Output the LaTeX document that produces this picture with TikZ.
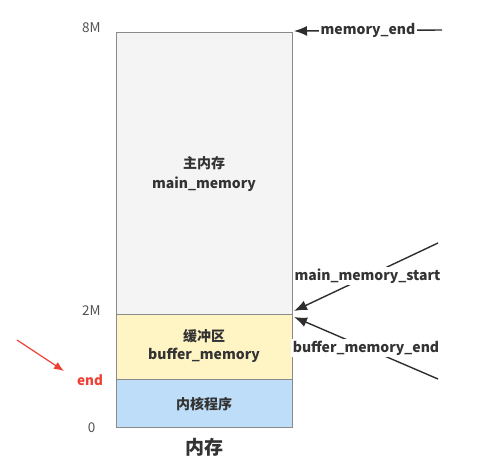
\documentclass[tikz,border=0pt]{standalone}
\usepackage{fontspec}
\setmainfont{Noto Sans CJK SC}
\usetikzlibrary{arrows.meta}
\definecolor{mgray}{HTML}{F4F4F4}
\definecolor{myel}{HTML}{FFF4C4}
\definecolor{mblue}{HTML}{BDDDF8}
\definecolor{mborder}{HTML}{8A8A8A}
\definecolor{mtext}{HTML}{333333}
\definecolor{mred}{HTML}{EE4035}
\tikzset{
  region/.style={draw=mborder, line width=1pt},
  rtext/.style={font=\bfseries\fontsize{14}{20}\selectfont, text=mtext, align=center},
  tick/.style={font=\fontsize{13.5}{15}\selectfont, text=mtext!85, anchor=east},
  ptr/.style={draw=mtext!90!black, line width=1.4pt, -{Latex[length=13pt,width=10pt]}},
  plabel/.style={font=\bfseries\fontsize{14}{16}\selectfont, text=mtext, fill=white, inner sep=1.5pt},
}
\begin{document}
\begin{tikzpicture}[x=1pt,y=-1pt]
\useasboundingbox (0,0) rectangle (488,474);
% regions
\path[region, fill=mgray] (116,32) rectangle (292,314);
\path[region, fill=myel] (116,314) rectangle (292,379);
\path[region, fill=mblue] (116,379) rectangle (292,427);
\node[rtext] (main) at (204,174) {主内存\\main\_memory};
\node[rtext, font=\bfseries\fontsize{14}{17.5}\selectfont] (buf) at (204,346) {缓冲区\\buffer\_memory};
\node[rtext] (kern) at (204,404) {内核程序};
\node[font=\bfseries\fontsize{19}{21}\selectfont, text=mtext] (mem) at (204,447) {内存};
% ticks
\node[tick] (t8) at (104,28) {8M};
\node[tick] (t2) at (104,311) {2M};
\node[tick] (t0) at (99,428) {0};
% pointers
\coordinate (topc) at (294,31);
\coordinate (midc1) at (294,311);
\coordinate (midc2) at (294,317);
\coordinate (e1) at (442,30);
\coordinate (e2) at (438,243);
\coordinate (e3) at (438,379);
\draw[ptr] (e1) -- node[plabel, pos=0.5] (lme) {memory\_end} (topc);
\draw[ptr] (e2) -- node[plabel, pos=0.49] (lmms) {main\_memory\_start} (midc1);
\draw[ptr] (e3) -- node[plabel, pos=0.5] (lbme) {buffer\_memory\_end} (midc2);
% end
\node[font=\bfseries\fontsize{13.5}{15}\selectfont, text=mred] (endl) at (90,380) {end};
\coordinate (rs) at (17,340);
\coordinate (re) at (64,371);
\draw[draw=mred, line width=1.2pt, -{Latex[length=10pt,width=8pt]}] (rs) -- (re);
\end{tikzpicture}
\end{document}
